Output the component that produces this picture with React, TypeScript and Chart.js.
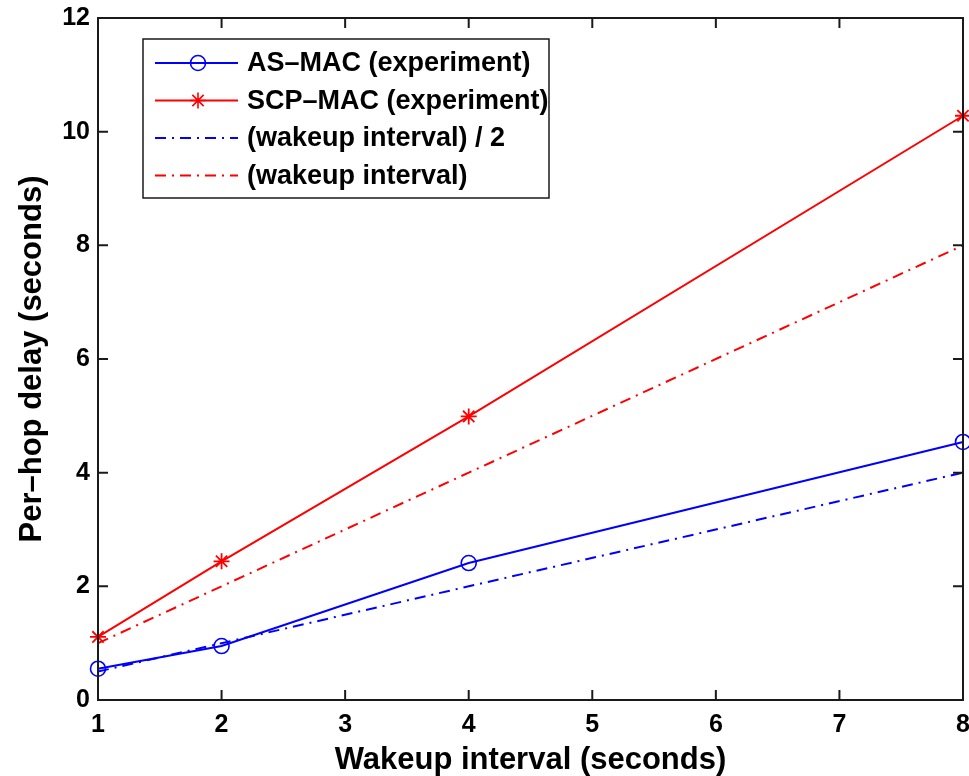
import React, { useEffect, useRef } from "react";
import { Chart, registerables } from "chart.js";

Chart.register(...registerables);

const wakeupIntervals = [1, 2, 4, 8];
const asMacDelay = [0.55, 0.95, 2.41, 4.54];
const scpMacDelay = [1.11, 2.44, 4.99, 10.28];
const halfInterval = [0.5, 1, 2, 4];
const fullInterval = [1, 2, 4, 8];
const xTickValues = [1, 2, 3, 4, 5, 6, 7, 8];
const yTickValues = [0, 2, 4, 6, 8, 10, 12];
const seriesLabels = [
  "AS–MAC (experiment)",
  "SCP–MAC (experiment)",
  "(wakeup interval) / 2",
  "(wakeup interval)",
];
const xTitle = "Wakeup interval (seconds)";
const yTitle = "Per–hop delay (seconds)";

const FONT = "'Liberation Sans', Arial, Helvetica, sans-serif";
const BLUE = "rgb(0,0,255)";
const RED = "rgb(255,0,0)";
const DASHDOT = [11, 6, 2, 6];

const zeroPadding = () => ({ left: 0, top: 0, right: 0, bottom: 0 });

function drawMarker(c: CanvasRenderingContext2D, style: string, x: number, y: number, r: number, color: string) {
  c.save();
  c.setLineDash([]);
  c.strokeStyle = color;
  c.lineWidth = 1.6;
  c.beginPath();
  if (style === "circle") {
    c.arc(x, y, r, 0, Math.PI * 2);
  } else if (style === "star") {
    for (let k = 0; k < 4; k++) {
      const a = (k * Math.PI) / 4;
      c.moveTo(x - r * Math.cos(a), y - r * Math.sin(a));
      c.lineTo(x + r * Math.cos(a), y + r * Math.sin(a));
    }
  }
  c.stroke();
  c.restore();
}

const framePlugin = {
  id: "frame",
  afterDatasetsDraw(chart: any) {
    const { ctx: c, chartArea: a } = chart;
    const xs = chart.scales.x;
    const ys = chart.scales.y;
    c.save();
    c.strokeStyle = "#1a1a1a";
    c.lineWidth = 2;
    c.setLineDash([]);
    c.strokeRect(a.left, a.top, a.right - a.left, a.bottom - a.top);
    const tl = 10;
    c.beginPath();
    xs.ticks.forEach((t: any) => {
      const px = xs.getPixelForValue(t.value);
      c.moveTo(px, a.bottom);
      c.lineTo(px, a.bottom - tl);
      c.moveTo(px, a.top);
      c.lineTo(px, a.top + tl);
    });
    ys.ticks.forEach((t: any) => {
      const py = ys.getPixelForValue(t.value);
      c.moveTo(a.left, py);
      c.lineTo(a.left + tl, py);
      c.moveTo(a.right, py);
      c.lineTo(a.right - tl, py);
    });
    c.stroke();
    c.restore();
  },
};

const legendPlugin = {
  id: "boxLegend",
  afterDraw(chart: any) {
    const c = chart.ctx as CanvasRenderingContext2D;
    const bx = 143, by = 39, bw = 406, bh = 159;
    c.save();
    c.fillStyle = "#fff";
    c.fillRect(bx, by, bw, bh);
    c.strokeStyle = "#1a1a1a";
    c.lineWidth = 1.5;
    c.setLineDash([]);
    c.strokeRect(bx, by, bw, bh);
    chart.data.datasets.forEach((ds: any, i: number) => {
      const cy = 63 + i * 37.5;
      c.strokeStyle = ds.borderColor;
      c.lineWidth = ds.borderWidth;
      c.setLineDash(ds.borderDash || []);
      c.beginPath();
      c.moveTo(155, cy);
      c.lineTo(238, cy);
      c.stroke();
      if (ds.pointRadius > 0) drawMarker(c, ds.pointStyle, 198, cy, ds.pointRadius, ds.borderColor);
      c.setLineDash([]);
      c.fillStyle = "#000";
      c.font = `bold 27px ${FONT}`;
      c.textBaseline = "middle";
      c.textAlign = "left";
      c.fillText(ds.label, 247, cy + 1);
    });
    c.restore();
  },
};

export default function App() {
  const ref = useRef<HTMLCanvasElement>(null);
  useEffect(() => {
    document.body.style.margin = "0";
    const toPts = (ys: number[]) => wakeupIntervals.map((x, i) => ({ x, y: ys[i] }));
    const chart = new Chart(ref.current!, {
      type: "line",
      data: {
        datasets: [
          {
            label: seriesLabels[0],
            data: toPts(asMacDelay),
            borderColor: BLUE,
            borderWidth: 2,
            pointStyle: "circle",
            pointRadius: 7.5,
            pointBorderWidth: 1.6,
            pointBackgroundColor: "rgba(0,0,0,0)",
            pointBorderColor: BLUE,
            clip: false,
          },
          {
            label: seriesLabels[1],
            data: toPts(scpMacDelay),
            borderColor: RED,
            borderWidth: 2,
            pointStyle: "star",
            pointRadius: 8,
            pointBorderWidth: 1.8,
            pointBackgroundColor: RED,
            pointBorderColor: RED,
            clip: false,
          },
          {
            label: seriesLabels[2],
            data: toPts(halfInterval),
            borderColor: BLUE,
            borderWidth: 2,
            borderDash: DASHDOT,
            pointRadius: 0,
            clip: false,
          },
          {
            label: seriesLabels[3],
            data: toPts(fullInterval),
            borderColor: RED,
            borderWidth: 2,
            borderDash: DASHDOT,
            pointRadius: 0,
            clip: false,
          },
        ] as any,
      },
      options: {
        animation: false,
        responsive: false,
        maintainAspectRatio: false,
        layout: { autoPadding: false, padding: { top: 18, right: 6, left: 0, bottom: 0 } },
        plugins: { legend: { display: false }, tooltip: { enabled: false } },
        scales: {
          x: {
            type: "linear",
            min: 1,
            max: 8,
            afterBuildTicks: (s: any) => {
              s.ticks = xTickValues.map((v) => ({ value: v }));
            },
            afterFit: (s: any) => {
              s.height = 76;
              s.paddingLeft = 0;
              s.paddingRight = 0;
              s.getPadding = zeroPadding;
            },
            grid: { display: false, drawTicks: false },
            border: { display: false },
            ticks: {
              color: "#000",
              padding: 10,
              maxRotation: 0,
              autoSkip: false,
              font: { family: FONT, size: 25, weight: "bold" },
            },
            title: {
              display: true,
              text: xTitle,
              color: "#000",
              padding: { top: 0, bottom: 0 },
              font: { family: FONT, size: 31, weight: "bold", lineHeight: 1 },
            },
          },
          y: {
            type: "linear",
            min: 0,
            max: 12,
            afterBuildTicks: (s: any) => {
              s.ticks = yTickValues.map((v) => ({ value: v }));
            },
            afterFit: (s: any) => {
              s.width = 98;
              s.paddingTop = 0;
              s.paddingBottom = 0;
              s.getPadding = zeroPadding;
            },
            grid: { display: false, drawTicks: false },
            border: { display: false },
            ticks: {
              color: "#000",
              padding: 8,
              autoSkip: false,
              font: { family: FONT, size: 25, weight: "bold" },
            },
            title: {
              display: true,
              text: yTitle,
              color: "#000",
              padding: { top: 14, bottom: 0 },
              font: { family: FONT, size: 31, weight: "bold", lineHeight: 1.2 },
            },
          },
        },
      } as any,
      plugins: [framePlugin, legendPlugin],
    });
    return () => chart.destroy();
  }, []);
  return <canvas ref={ref} width={969} height={776} style={{ display: "block" }} />;
}
